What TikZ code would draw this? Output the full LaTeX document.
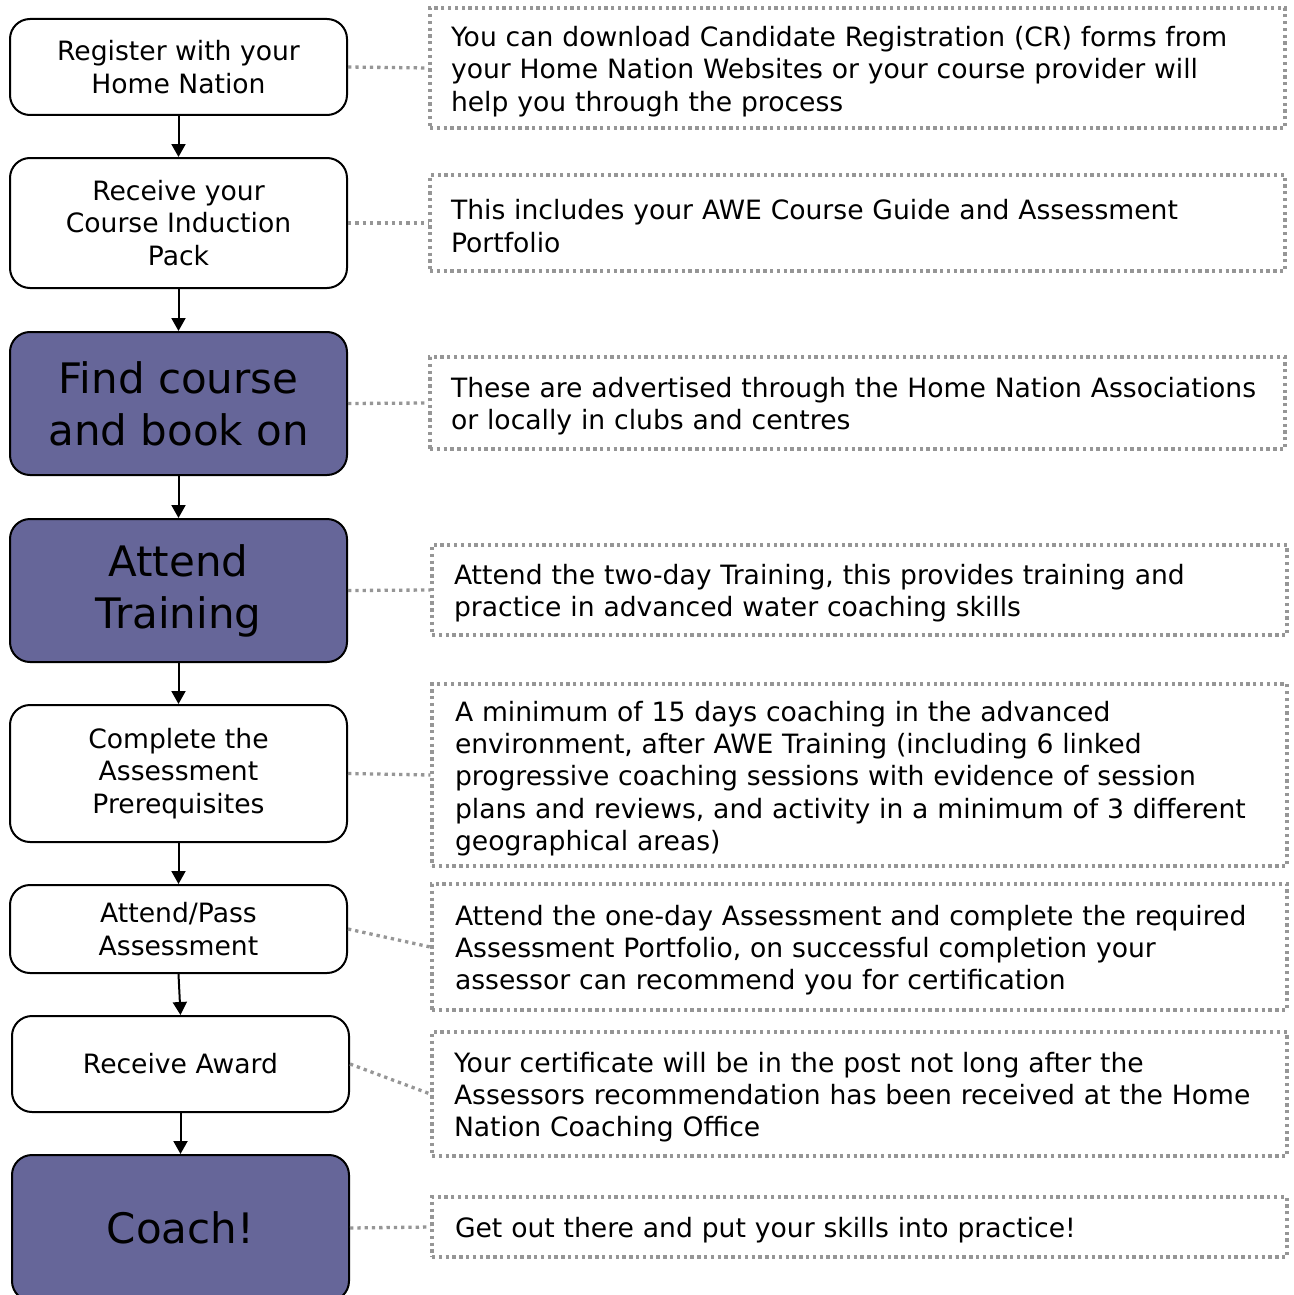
\documentclass[tikz,border=0pt]{standalone}
\usepackage{fontspec}
\setmainfont{DejaVu Sans}
\usetikzlibrary{arrows.meta}
\definecolor{stepfill}{RGB}{102,102,153}
\definecolor{dotgray}{RGB}{150,150,150}
\tikzset{
  stepbox/.style={draw=black, line width=2pt, rounded corners=20pt, minimum width=337pt,
    align=center, inner sep=4pt, font=\fontsize{26.6pt}{32.3pt}\selectfont},
  bigbox/.style={stepbox, fill=stepfill, font=\fontsize{42pt}{52pt}\selectfont},
  notebox/.style={draw=dotgray, line width=3.3pt, dash pattern=on 3.3pt off 3.5pt,
    minimum width=855pt},
  notetext/.style={text width=813pt, inner xsep=0pt, inner ysep=0pt, align=left,
    font=\fontsize{26.6pt}{32.3pt}\selectfont},
  flow/.style={draw=black, line width=2pt, -{Triangle[width=14pt,length=13pt]}},
  conn/.style={draw=dotgray, line width=3.3pt, dash pattern=on 3.3pt off 4pt}
}
\begin{document}
\begin{tikzpicture}[x=1pt,y=-1pt]
\useasboundingbox (0,0) rectangle (1293,1295);
\fill[white] (0,0) rectangle (1293,1295);
% left steps
\node[stepbox, minimum height=96pt] (l1) at (178.5,67) {Register with your\\Home Nation};
\node[stepbox, minimum height=130pt] (l2) at (178.5,223) {Receive your\\Course Induction\\Pack};
\node[bigbox, minimum height=143pt] (l3) at (178.5,403.5) {Find course\\and book on};
\node[bigbox, minimum height=143pt] (l4) at (178.5,590.5) {Attend\\Training};
\node[stepbox, minimum height=137pt] (l5) at (178.5,773.5) {Complete the\\Assessment\\Prerequisites};
\node[stepbox, minimum height=88pt] (l6) at (178.5,929) {Attend/Pass\\Assessment};
\node[stepbox, minimum height=96pt] (l7) at (180.5,1064) {Receive Award};
\node[bigbox, minimum height=146pt] (l8) at (180.5,1228) {Coach!};
% note boxes
\node[notebox, minimum height=120pt] (r1) at (857.5,68) {};
\node[notebox, minimum height=96pt] (r2) at (857.5,223) {};
\node[notebox, minimum height=92pt] (r3) at (857.5,403) {};
\node[notebox, minimum height=90pt] (r4) at (859.5,590) {};
\node[notebox, minimum height=182pt] (r5) at (859.5,775) {};
\node[notebox, minimum height=126pt] (r6) at (859.5,947) {};
\node[notebox, minimum height=124pt] (r7) at (859.5,1094) {};
\node[notebox, minimum height=60pt] (r8) at (859.5,1227) {};
% note texts
\node[notetext] (t1) at ([yshift=-3.5pt]r1.center) {You can download Candidate Registration (CR) forms from\\your Home Nation Websites or your course provider will\\help you through the process};
\node[notetext] (t2) at ([yshift=-3pt]r2.center) {This includes your AWE Course Guide and Assessment\\Portfolio};
\node[notetext] (t3) at ([yshift=-3pt]r3.center) {These are advertised through the Home Nation Associations\\or locally in clubs and centres};
\node[notetext] (t4) at ([xshift=1pt,yshift=-3pt]r4.center) {Attend the two-day Training, this provides training and\\practice in advanced water coaching skills};
\node[notetext] (t5) at ([xshift=2pt,yshift=-3.5pt]r5.center) {A minimum of 15 days coaching in the advanced\\environment, after AWE Training (including 6 linked\\progressive coaching sessions with evidence of session\\plans and reviews, and activity in a minimum of 3 different\\geographical areas)};
\node[notetext] (t6) at ([xshift=2pt,yshift=-3pt]r6.center) {Attend the one-day Assessment and complete the required\\Assessment Portfolio, on successful completion your\\assessor can recommend you for certification};
\node[notetext] (t7) at ([xshift=1pt,yshift=-3pt]r7.center) {Your certificate will be in the post not long after the\\Assessors recommendation has been received at the Home\\Nation Coaching Office};
\node[notetext] (t8) at ([xshift=2pt,yshift=-3pt]r8.center) {Get out there and put your skills into practice!};
% flow arrows
\draw[flow] (l1) -- (l2);
\draw[flow] (l2) -- (l3);
\draw[flow] (l3) -- (l4);
\draw[flow] (l4) -- (l5);
\draw[flow] (l5) -- (l6);
\draw[flow] (l6.south) -- (l7.north);
\draw[flow] (l7) -- (l8);
% dotted connectors
\draw[conn] (l1.east) -- (r1.west);
\draw[conn] (l2.east) -- (r2.west);
\draw[conn] (l3.east) -- (r3.west);
\draw[conn] (l4.east) -- (r4.west);
\draw[conn] (l5.east) -- (r5.west);
\draw[conn] (l6.east) -- (r6.west);
\draw[conn] (l7.east) -- (r7.west);
\draw[conn] (l8.east) -- (r8.west);
\end{tikzpicture}
\end{document}
